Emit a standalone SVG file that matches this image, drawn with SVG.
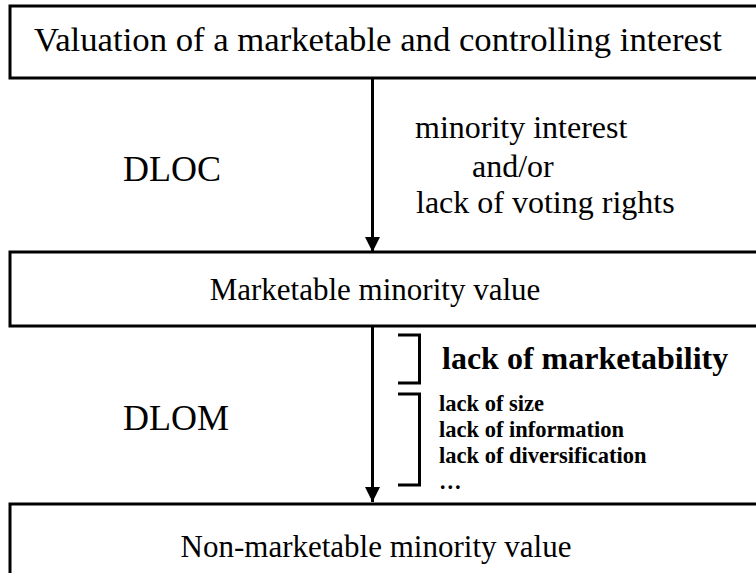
<svg xmlns="http://www.w3.org/2000/svg" width="756" height="573" viewBox="0 0 756 573">
  <style>
    .box { fill: #fff; stroke: #000; stroke-width: 3; }
    text { font-family: 'Liberation Serif', 'Tinos', 'DejaVu Serif', 'Times New Roman', serif; fill: #000; }
    .title { text-anchor: middle; }
    .lbl { font-size: 32px; }
    .tag { font-size: 36px; }
    .bold { font-weight: bold; }
    .edge { stroke: #000; stroke-width: 3; fill: none; }
    .brace { stroke: #000; stroke-width: 3; fill: none; }
  </style>
  <defs>
    <marker id="arrow" markerUnits="userSpaceOnUse" markerWidth="16" markerHeight="16" refX="15" refY="8" orient="auto">
      <path d="M0,0.5 L15,8 L0,15.5 Z" fill="#000"/>
    </marker>
  </defs>
  <rect width="756" height="573" fill="#fff"/>

  <g id="connectors">
    <line class="edge" x1="372.5" y1="78" x2="372.5" y2="252" marker-end="url(#arrow)"/>
    <line class="edge" x1="372.5" y1="326" x2="372.5" y2="502" marker-end="url(#arrow)"/>
  </g>

  <g id="controlling">
    <rect class="box" x="10" y="6" width="760" height="72"/>
    <text class="title" x="378" y="51" font-size="34" textLength="688" lengthAdjust="spacingAndGlyphs">Valuation of a marketable and controlling interest</text>
  </g>

  <g id="marketable-minority">
    <rect class="box" x="10" y="252" width="760" height="74"/>
    <text class="title" x="375" y="300" font-size="31">Marketable minority value</text>
  </g>

  <g id="non-marketable-minority">
    <rect class="box" x="10" y="504" width="760" height="80"/>
    <text class="title" x="376" y="557" font-size="31">Non-marketable minority value</text>
  </g>

  <g id="dloc">
    <text class="tag" x="123" y="181">DLOC</text>
    <text class="lbl" x="415" y="138">minority interest</text>
    <text class="lbl" x="472" y="177">and/or</text>
    <text class="lbl" x="416" y="213">lack of voting rights</text>
  </g>

  <g id="dlom">
    <text class="tag" x="123" y="430">DLOM</text>
    <path class="brace" d="M398,335 H419.5 V383 H398"/>
    <text class="bold" x="442" y="369" font-size="32">lack of marketability</text>
    <path class="brace" d="M398,394 H419.5 V485 H398"/>
    <text class="bold" x="439" y="411" font-size="22.5">lack of size</text>
    <text class="bold" x="439" y="437" font-size="22.5">lack of information</text>
    <text class="bold" x="439" y="463" font-size="22.5">lack of diversification</text>
    <text class="bold" x="439" y="489" font-size="22.5">…</text>
  </g>
</svg>
